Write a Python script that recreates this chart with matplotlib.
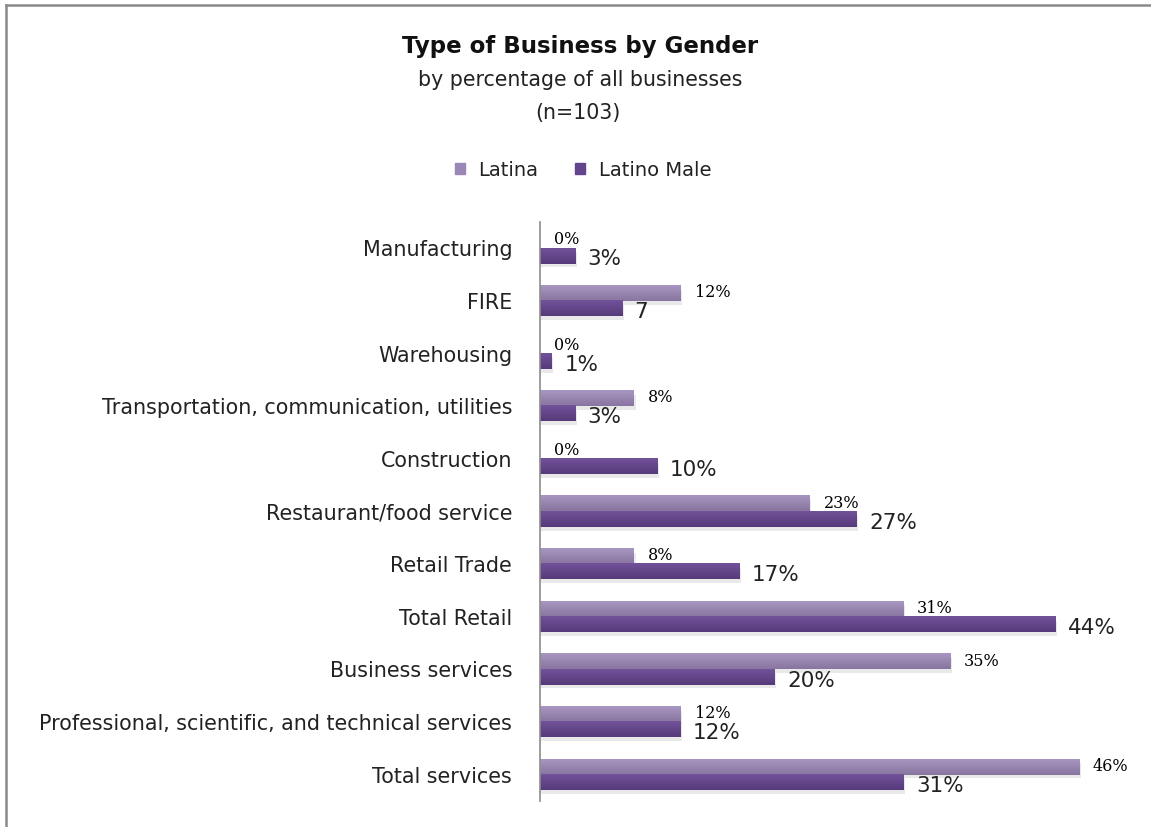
import numpy as np
import matplotlib.pyplot as plt
from matplotlib.lines import Line2D

categories = ['Manufacturing', 'FIRE', 'Warehousing',
              'Transportation, communication, utilities', 'Construction',
              'Restaurant/food service', 'Retail Trade', 'Total Retail',
              'Business services',
              'Professional, scientific, and technical services',
              'Total services']
latina = [0, 12, 0, 8, 0, 23, 8, 31, 35, 12, 46]
latino_male = [3, 7, 1, 3, 10, 27, 17, 44, 20, 12, 31]
latina_labels = ['0%', '12%', '0%', '8%', '0%', '23%', '8%', '31%', '35%', '12%', '46%']
male_labels = ['3%', '7', '1%', '3%', '10%', '27%', '17%', '44%', '20%', '12%', '31%']

plt.rcParams['font.family'] = 'DejaVu Sans'

W, H = 1151, 827
fig = plt.figure(figsize=(W / 100, H / 100), dpi=100)
fig.patch.set_facecolor('white')

# plot area in pixels: zero line at x=540, one percent ~11.72 px
left, right = 540, 1130
top, bottom = 222, 801
ax = fig.add_axes([left / W, 1 - bottom / H, (right - left) / W, (bottom - top) / H])

y = np.arange(len(categories))
bh = 0.29

light_top, light_bot = np.array([168, 150, 194]) / 255, np.array([136, 118, 160]) / 255
dark_top, dark_bot = np.array([114, 82, 154]) / 255, np.array([86, 58, 122]) / 255


def gradient_bars(bars, c_top, c_bot):
    t = np.linspace(0, 1, 32)[:, None]
    img = (c_top[None, :] * (1 - t) + c_bot[None, :] * t)[:, None, :]
    for b in bars:
        x0, w = b.get_x(), b.get_width()
        y0, h = b.get_y(), b.get_height()
        b.set_visible(False)
        if w <= 0:
            continue
        # soft shadow beneath the bar
        ax.add_patch(plt.Rectangle((x0, y0 + h * 0.25), w + 0.15, h, color='#a8a8a8',
                                   alpha=0.25, lw=0, zorder=1))
        ax.imshow(img, extent=[x0, x0 + w, y0 + h, y0], aspect='auto',
                  interpolation='bilinear', zorder=2)


b1 = ax.barh(y - bh / 2, latina, height=bh, color='#9b87b5', label='Latina')
b2 = ax.barh(y + bh / 2, latino_male, height=bh, color='#62458c', label='Latino Male')
gradient_bars(b1, light_top, light_bot)
gradient_bars(b2, dark_top, dark_bot)
ax.set_xlim(0, (right - left) / 11.72)
ax.set_ylim(len(categories) - 0.5, -0.5)

for i in range(len(categories)):
    ax.annotate(latina_labels[i], (latina[i], y[i] - bh / 2), xytext=(10, 0.5),
                textcoords='offset points', va='center', ha='left',
                fontsize=11.5, family='DejaVu Serif', color='#000000', zorder=1.5)
    ax.annotate(male_labels[i], (latino_male[i], y[i] + bh / 2), xytext=(9, -2.5),
                textcoords='offset points', va='center', ha='left',
                fontsize=15.5, color='#222222', zorder=3)

ax.set_yticks(y)
ax.set_yticklabels(categories, fontsize=14.9, color='#222222')
ax.tick_params(axis='y', length=0, pad=20)
ax.set_xticks([])
for s in ['top', 'right', 'bottom']:
    ax.spines[s].set_visible(False)
ax.spines['left'].set_color('#8c8c8c')
ax.spines['left'].set_linewidth(1.2)

fig.text(580 / W, 1 - 47 / H, 'Type of Business by Gender', ha='center', va='center',
         fontsize=16.5, fontweight='bold', color='#111111')
fig.text(580 / W, 1 - 80 / H, 'by percentage of all businesses', ha='center', va='center',
         fontsize=14.8, color='#222222')
fig.text(578 / W, 1 - 113 / H, '(n=103)', ha='center', va='center',
         fontsize=14.8, color='#222222')

fig.legend(handles=[plt.Rectangle((0, 0), 1, 1, color='#9b87b5'),
                    plt.Rectangle((0, 0), 1, 1, color='#62458c')],
           labels=['Latina', 'Latino Male'], loc='center', ncol=2,
           bbox_to_anchor=(583 / W, 1 - 170 / H), frameon=False,
           prop={'size': 14}, handlelength=0.5, handleheight=0.5,
           handletextpad=0.7, columnspacing=1.9, labelcolor='#222222')

# outer frame, top and left edges only
fig.add_artist(Line2D([6 / W, 1], [1 - 5 / H, 1 - 5 / H], color='#8a8a8a', lw=1.8))
fig.add_artist(Line2D([6 / W, 6 / W], [0, 1 - 5 / H], color='#8a8a8a', lw=1.8))

fig.savefig('out.png', dpi=100)
